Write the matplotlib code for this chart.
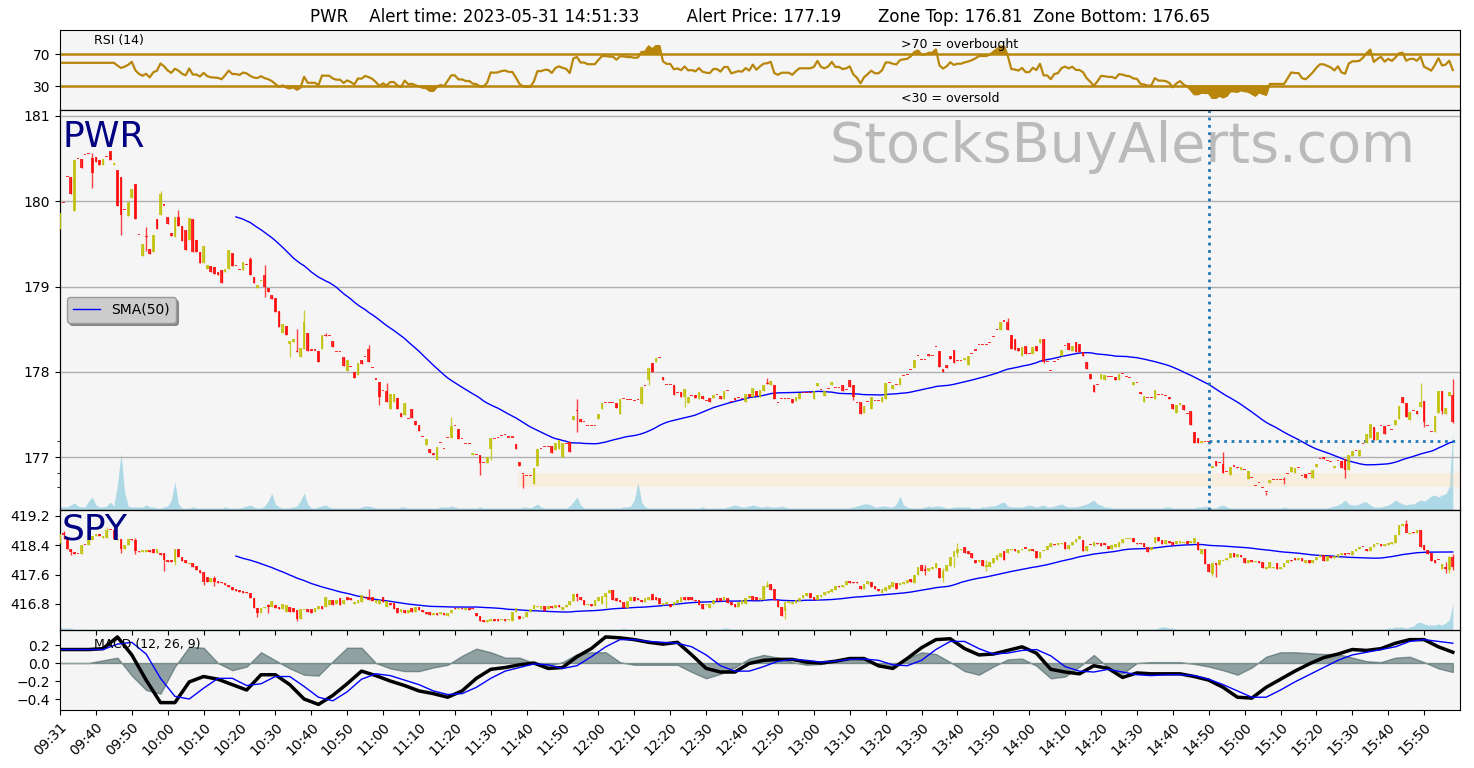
import numpy as np
import pandas as pd
import matplotlib
matplotlib.use("Agg")
import matplotlib.pyplot as plt

ticker = "PWR"
alert_time = "2023-05-31 14:51:33"
alert_price = 177.19
zone_top = 176.81
zone_bottom = 176.65
alert_bar = 320
zone_start_bar = 128
# RSI shown flat before it has enough history
rsi_start_value = 59
rsi_start_bars = 16

time_labels = ["09:31", "09:40", "09:50", "10:00", "10:10", "10:20", "10:30", "10:40",
               "10:50", "11:00", "11:10", "11:20", "11:30", "11:40", "11:50", "12:00",
               "12:10", "12:20", "12:30", "12:40", "12:50", "13:00", "13:10", "13:20",
               "13:30", "13:40", "13:50", "14:00", "14:10", "14:20", "14:30", "14:40",
               "14:50", "15:00", "15:10", "15:20", "15:30", "15:40", "15:50"]

# PWR 1-minute candles (open / close)
pwr_open = [
    179.68, 179.98, 180.28, 180.28, 179.88, 180.50, 180.49, 180.54, 180.55, 180.51,
    180.52, 180.48, 180.42, 180.52, 180.59, 180.42, 180.37, 180.28, 179.90, 179.83,
    180.04, 180.20, 179.60, 179.36, 179.58, 179.44, 179.41, 179.79, 179.84, 179.95,
    179.82, 179.63, 179.58, 179.82, 179.71, 179.66, 179.55, 179.79, 179.54, 179.40,
    179.28, 179.21, 179.24, 179.23, 179.17, 179.19, 179.17, 179.21, 179.39, 179.24,
    179.19, 179.19, 179.25, 179.32, 179.11, 178.98, 179.07, 179.14, 178.98, 178.90,
    178.86, 178.71, 178.45, 178.54, 178.33, 178.35, 178.25, 178.17, 178.27, 178.46,
    178.25, 178.25, 178.24, 178.27, 178.42, 178.42, 178.36, 178.23, 178.23, 178.17,
    178.01, 178.06, 178.00, 177.96, 178.14, 178.17, 178.27, 178.05, 177.91, 177.88,
    177.77, 177.77, 177.57, 177.65, 177.69, 177.52, 177.49, 177.45, 177.57, 177.42,
    177.38, 177.24, 177.14, 177.09, 177.05, 176.97, 177.16, 177.10, 177.22, 177.23,
    177.36, 177.33, 177.21, 177.15, 177.15, 177.03, 177.03, 177.03, 176.93, 176.93,
    177.10, 177.21, 177.22, 177.25, 177.26, 177.23, 177.23, 177.15, 176.94, 176.80,
    176.78, 176.78, 176.69, 176.90, 177.09, 177.12, 177.12, 177.13, 177.08, 177.09,
    177.00, 177.15, 177.18, 177.43, 177.54, 177.45, 177.41, 177.37, 177.37, 177.37,
    177.45, 177.56, 177.64, 177.63, 177.63, 177.64, 177.50, 177.68, 177.67, 177.67,
    177.66, 177.67, 177.62, 177.83, 177.90, 178.10, 178.11, 178.16, 177.94, 177.85,
    177.85, 177.85, 177.75, 177.76, 177.71, 177.64, 177.72, 177.73, 177.68, 177.72,
    177.66, 177.69, 177.69, 177.73, 177.72, 177.68, 177.77, 177.65, 177.69, 177.69,
    177.68, 177.65, 177.74, 177.71, 177.77, 177.70, 177.77, 177.86, 177.85, 177.84,
    177.64, 177.68, 177.68, 177.68, 177.68, 177.66, 177.68, 177.75, 177.75, 177.75,
    177.68, 177.83, 177.79, 177.72, 177.80, 177.85, 177.81, 177.81, 177.85, 177.79,
    177.90, 177.84, 177.64, 177.65, 177.52, 177.65, 177.57, 177.66, 177.66, 177.65,
    177.68, 177.87, 177.80, 177.84, 177.85, 177.95, 177.96, 178.02, 178.04, 178.19,
    178.14, 178.14, 178.21, 178.19, 178.29, 178.24, 178.03, 178.08, 178.18, 178.26,
    178.13, 178.13, 178.14, 178.08, 178.21, 178.25, 178.31, 178.31, 178.31, 178.34,
    178.41, 178.49, 178.49, 178.59, 178.58, 178.43, 178.38, 178.28, 178.18, 178.30,
    178.21, 178.21, 178.30, 178.34, 178.38, 178.12, 178.01, 178.12, 178.14, 178.19,
    178.30, 178.34, 178.25, 178.35, 178.33, 178.23, 178.12, 177.97, 177.85, 177.85,
    177.92, 177.91, 177.94, 177.94, 177.94, 177.91, 177.97, 177.94, 177.93, 177.85,
    177.87, 177.76, 177.65, 177.69, 177.69, 177.68, 177.73, 177.73, 177.72, 177.71,
    177.62, 177.52, 177.61, 177.61, 177.50, 177.54, 177.30, 177.22, 177.16, 177.18,
    177.18, 176.87, 176.96, 176.93, 176.92, 176.83, 176.79, 176.89, 176.89, 176.85,
    176.85, 176.74, 176.76, 176.66, 176.70, 176.64, 176.59, 176.70, 176.73, 176.73,
    176.73, 176.73, 176.80, 176.82, 176.81, 176.87, 176.78, 176.80, 176.80, 176.76,
    176.89, 176.98, 177.00, 176.96, 176.94, 176.87, 176.96, 176.96, 176.98, 176.85,
    177.01, 177.07, 177.01, 177.15, 177.16, 177.22, 177.35, 177.20, 177.36, 177.36,
    177.36, 177.32, 177.38, 177.45, 177.70, 177.64, 177.43, 177.54, 177.54, 177.59,
    177.66, 177.36, 177.30, 177.30, 177.52, 177.78, 177.51, 177.72, 177.73]

pwr_close = [
    179.86, 179.98, 180.28, 180.08, 180.48, 180.50, 180.39, 180.54, 180.55, 180.33,
    180.46, 180.43, 180.50, 180.52, 180.48, 180.45, 179.94, 179.84, 179.90, 179.99,
    180.14, 179.79, 179.60, 179.50, 179.58, 179.38, 179.61, 179.68, 180.09, 179.95,
    179.73, 179.59, 179.82, 179.71, 179.53, 179.43, 179.80, 179.41, 179.41, 179.28,
    179.47, 179.25, 179.17, 179.15, 179.13, 179.04, 179.21, 179.43, 179.24, 179.24,
    179.19, 179.29, 179.25, 179.13, 179.04, 179.02, 179.08, 178.99, 178.94, 178.85,
    178.70, 178.52, 178.56, 178.43, 178.36, 178.39, 178.23, 178.28, 178.59, 178.25,
    178.25, 178.25, 178.11, 178.43, 178.42, 178.42, 178.29, 178.23, 178.23, 178.07,
    178.14, 178.06, 177.93, 178.10, 178.09, 178.17, 178.12, 178.05, 177.91, 177.70,
    177.77, 177.65, 177.74, 177.74, 177.57, 177.47, 177.64, 177.45, 177.46, 177.38,
    177.31, 177.24, 177.21, 177.05, 177.03, 177.12, 177.16, 177.10, 177.22, 177.36,
    177.36, 177.21, 177.21, 177.15, 177.15, 177.05, 177.03, 176.93, 176.93, 177.00,
    177.22, 177.21, 177.22, 177.25, 177.26, 177.23, 177.23, 177.10, 176.90, 176.80,
    176.78, 176.78, 176.87, 177.09, 177.09, 177.12, 177.12, 177.05, 177.16, 177.20,
    177.17, 177.15, 177.06, 177.48, 177.54, 177.41, 177.41, 177.37, 177.37, 177.37,
    177.50, 177.64, 177.64, 177.63, 177.63, 177.58, 177.68, 177.68, 177.67, 177.67,
    177.66, 177.67, 177.82, 177.83, 178.04, 178.00, 178.16, 178.16, 177.90, 177.85,
    177.85, 177.73, 177.75, 177.71, 177.80, 177.71, 177.72, 177.69, 177.76, 177.68,
    177.66, 177.65, 177.73, 177.73, 177.68, 177.77, 177.77, 177.65, 177.67, 177.69,
    177.68, 177.74, 177.70, 177.81, 177.72, 177.79, 177.85, 177.86, 177.89, 177.68,
    177.64, 177.68, 177.68, 177.68, 177.64, 177.70, 177.75, 177.75, 177.75, 177.75,
    177.77, 177.87, 177.79, 177.77, 177.80, 177.88, 177.81, 177.81, 177.78, 177.79,
    177.82, 177.70, 177.64, 177.51, 177.60, 177.65, 177.71, 177.66, 177.66, 177.71,
    177.87, 177.87, 177.85, 177.84, 177.93, 177.95, 177.96, 178.02, 178.14, 178.19,
    178.14, 178.14, 178.19, 178.19, 178.29, 178.06, 178.00, 178.05, 178.15, 178.10,
    178.13, 178.13, 178.16, 178.18, 178.21, 178.25, 178.31, 178.31, 178.31, 178.34,
    178.41, 178.49, 178.59, 178.59, 178.49, 178.27, 178.26, 178.24, 178.29, 178.21,
    178.21, 178.29, 178.25, 178.38, 178.12, 178.12, 178.01, 178.12, 178.14, 178.26,
    178.30, 178.26, 178.30, 178.23, 178.23, 178.18, 178.03, 177.92, 177.76, 177.85,
    177.97, 177.96, 177.94, 177.94, 177.90, 177.98, 177.97, 177.94, 177.93, 177.88,
    177.87, 177.74, 177.72, 177.69, 177.69, 177.79, 177.73, 177.73, 177.72, 177.68,
    177.56, 177.61, 177.64, 177.55, 177.50, 177.38, 177.17, 177.17, 177.19, 177.18,
    177.18, 176.90, 176.90, 176.93, 176.81, 176.83, 176.89, 176.89, 176.87, 176.89,
    176.85, 176.84, 176.76, 176.66, 176.70, 176.64, 176.59, 176.73, 176.73, 176.73,
    176.73, 176.73, 176.80, 176.88, 176.87, 176.87, 176.78, 176.76, 176.80, 176.85,
    176.92, 176.98, 176.98, 176.96, 176.94, 176.90, 176.96, 176.87, 176.85, 177.02,
    177.07, 177.07, 177.08, 177.15, 177.27, 177.39, 177.20, 177.29, 177.36, 177.27,
    177.36, 177.32, 177.43, 177.60, 177.63, 177.47, 177.53, 177.54, 177.50, 177.65,
    177.41, 177.36, 177.30, 177.48, 177.77, 177.54, 177.58, 177.76, 177.41]

# bars with a visible wick: bar index, high, low
pwr_wick_bar = [9, 17, 24, 28, 33, 53, 57, 64, 66, 68, 74, 86, 89, 91, 109, 117, 120,
                129, 144, 164, 174, 197, 221, 264, 274, 324, 336, 341, 358, 379, 380,
                385, 388]
pwr_wick_high = [180.56, 180.28, 179.70, 180.12, 179.90, 179.35, 179.25, 178.36, 178.50,
                 178.72, 178.46, 178.31, 177.88, 177.87, 177.47, 177.03, 177.22, 176.80,
                 177.68, 178.04, 177.80, 177.93, 177.84, 178.63, 178.38, 177.06, 176.59,
                 176.77, 176.98, 177.87, 177.66, 177.78, 177.92]
pwr_wick_low = [180.16, 179.60, 179.42, 179.84, 179.71, 179.13, 178.88, 178.17, 178.23,
                178.27, 178.42, 178.12, 177.61, 177.65, 177.23, 176.79, 176.97, 176.64,
                177.30, 177.85, 177.59, 177.86, 177.67, 178.49, 178.10, 176.81, 176.56,
                176.69, 176.76, 177.59, 177.35, 177.50, 177.40]

pwr_volume = [
    3, 3, 3, 5, 7, 4, 3, 3, 9, 13, 5, 3, 3, 4, 8, 4, 25, 57, 18, 4,
    3, 3, 3, 3, 5, 3, 3, 2, 2, 3, 4, 10, 28, 6, 2, 2, 2, 3, 2, 2,
    2, 2, 2, 2, 2, 2, 3, 2, 2, 2, 2, 3, 4, 5, 3, 2, 2, 4, 9, 17,
    6, 3, 2, 2, 2, 3, 4, 9, 17, 6, 2, 2, 3, 4, 5, 3, 2, 2, 2, 2,
    2, 2, 2, 2, 3, 4, 4, 3, 2, 2, 2, 2, 2, 2, 2, 3, 3, 2, 2, 2,
    2, 2, 2, 2, 2, 2, 3, 3, 3, 4, 3, 2, 2, 2, 2, 2, 2, 3, 2, 2,
    2, 2, 2, 2, 2, 2, 2, 2, 2, 3, 3, 2, 4, 6, 3, 2, 2, 2, 2, 2,
    2, 2, 4, 8, 13, 5, 2, 2, 2, 2, 2, 2, 2, 2, 2, 2, 2, 3, 3, 4,
    10, 28, 8, 3, 2, 2, 2, 2, 2, 2, 2, 2, 2, 2, 2, 2, 2, 2, 2, 3,
    2, 2, 2, 2, 2, 2, 3, 4, 5, 4, 3, 3, 4, 5, 4, 3, 3, 4, 3, 3,
    3, 4, 3, 2, 2, 2, 2, 2, 2, 2, 2, 2, 2, 2, 2, 2, 2, 2, 2, 2,
    2, 3, 4, 5, 6, 6, 5, 3, 3, 4, 4, 3, 3, 6, 14, 5, 3, 2, 2, 2,
    2, 3, 4, 3, 4, 4, 3, 2, 2, 3, 3, 3, 3, 3, 2, 2, 2, 3, 3, 4,
    4, 5, 7, 8, 4, 3, 3, 3, 3, 4, 5, 4, 3, 4, 5, 3, 3, 4, 5, 6,
    4, 3, 3, 3, 4, 5, 6, 8, 10, 6, 5, 3, 3, 2, 2, 2, 2, 2, 2, 2,
    2, 2, 2, 2, 2, 2, 2, 2, 3, 3, 2, 2, 2, 2, 2, 2, 2, 3, 3, 4,
    3, 2, 2, 4, 5, 3, 2, 2, 2, 2, 2, 2, 2, 2, 2, 2, 2, 2, 2, 2,
    2, 3, 2, 2, 2, 2, 2, 2, 2, 2, 2, 2, 2, 2, 3, 4, 5, 7, 10, 6,
    5, 5, 6, 8, 8, 5, 3, 3, 3, 4, 5, 7, 10, 8, 6, 5, 6, 6, 8, 10,
    9, 11, 14, 15, 13, 15, 16, 23, 80]

# SPY 1-minute candles
spy_open = [
    418.45, 418.72, 418.56, 418.31, 418.22, 418.15, 418.15, 418.40, 418.40, 418.54,
    418.65, 418.71, 418.59, 418.59, 418.81, 418.81, 418.54, 418.58, 418.31, 418.40,
    418.58, 418.54, 418.25, 418.21, 418.21, 418.27, 418.31, 418.18, 418.18, 418.18,
    418.01, 418.01, 417.95, 418.29, 418.09, 418.00, 417.89, 417.91, 417.83, 417.72,
    417.68, 417.54, 417.40, 417.50, 417.42, 417.40, 417.38, 417.31, 417.27, 417.20,
    417.18, 417.16, 417.13, 417.09, 416.95, 416.70, 416.56, 416.68, 416.77, 416.71,
    416.77, 416.72, 416.65, 416.59, 416.72, 416.68, 416.63, 416.38, 416.63, 416.66,
    416.65, 416.59, 416.65, 416.74, 416.72, 416.77, 416.92, 416.80, 416.95, 416.81,
    416.98, 416.95, 416.80, 416.82, 416.86, 417.00, 416.98, 416.98, 416.82, 416.80,
    416.98, 416.72, 416.83, 416.83, 416.70, 416.59, 416.63, 416.54, 416.68, 416.59,
    416.71, 416.63, 416.59, 416.59, 416.49, 416.54, 416.52, 416.56, 416.47, 416.54,
    416.70, 416.65, 416.70, 416.63, 416.70, 416.68, 416.54, 416.47, 416.35, 416.32,
    416.34, 416.40, 416.38, 416.36, 416.40, 416.36, 416.34, 416.59, 416.47, 416.41,
    416.45, 416.59, 416.66, 416.72, 416.66, 416.74, 416.66, 416.74, 416.70, 416.77,
    416.63, 416.72, 416.77, 416.88, 417.07, 417.00, 416.92, 416.77, 416.80, 416.75,
    416.89, 416.80, 417.00, 417.09, 417.18, 416.95, 416.91, 416.86, 416.68, 416.89,
    417.00, 416.95, 416.92, 416.86, 416.91, 417.07, 416.98, 416.95, 416.77, 416.80,
    416.81, 416.77, 416.83, 416.86, 416.98, 417.00, 417.00, 416.92, 416.91, 416.81,
    416.77, 416.68, 416.81, 416.95, 416.95, 416.91, 416.95, 416.86, 416.81, 416.72,
    416.81, 416.81, 416.95, 417.01, 416.98, 416.91, 416.92, 417.27, 417.34, 417.21,
    416.92, 416.72, 416.61, 416.83, 416.80, 416.83, 416.89, 416.95, 417.01, 417.09,
    416.98, 416.92, 417.00, 417.04, 417.09, 417.13, 417.18, 417.29, 417.25, 417.31,
    417.43, 417.40, 417.40, 417.29, 417.20, 417.34, 417.40, 417.29, 417.22, 417.11,
    417.16, 417.22, 417.27, 417.38, 417.31, 417.34, 417.38, 417.47, 417.38, 417.59,
    417.86, 417.74, 417.71, 417.74, 417.77, 417.77, 417.50, 417.71, 417.83, 418.07,
    418.20, 418.27, 418.34, 418.24, 418.18, 418.01, 417.95, 418.00, 417.81, 417.81,
    417.92, 418.01, 418.09, 418.24, 418.20, 418.27, 418.29, 418.20, 418.27, 418.31,
    418.24, 418.29, 418.25, 418.04, 418.24, 418.27, 418.36, 418.43, 418.40, 418.43,
    418.48, 418.31, 418.40, 418.48, 418.56, 418.54, 418.25, 418.40, 418.38, 418.47,
    418.45, 418.45, 418.38, 418.31, 418.34, 418.36, 418.47, 418.56, 418.58, 418.60,
    418.47, 418.45, 418.45, 418.34, 418.27, 418.45, 418.63, 418.54, 418.43, 418.52,
    418.50, 418.42, 418.45, 418.45, 418.51, 418.47, 418.47, 418.50, 418.16, 418.31,
    417.88, 417.61, 417.91, 417.86, 417.98, 418.00, 418.04, 418.18, 418.07, 418.13,
    418.04, 417.91, 418.00, 417.93, 417.97, 417.95, 417.74, 417.77, 417.77, 417.92,
    417.74, 417.80, 417.92, 418.01, 418.04, 418.00, 418.04, 417.92, 418.00, 417.91,
    418.00, 418.09, 418.13, 417.98, 418.11, 418.04, 418.09, 418.13, 418.20, 418.20,
    418.13, 418.24, 418.29, 418.34, 418.31, 418.25, 418.34, 418.42, 418.42, 418.38,
    418.41, 418.43, 418.45, 418.68, 418.92, 418.98, 418.71, 418.77, 418.72, 418.81,
    418.40, 418.27, 418.18, 418.00, 417.99, 417.74, 417.80, 417.72, 418.09]

spy_close = [
    418.71, 418.67, 418.31, 418.22, 418.15, 418.15, 418.40, 418.40, 418.54, 418.65,
    418.71, 418.65, 418.65, 418.81, 418.81, 418.56, 418.58, 418.31, 418.40, 418.58,
    418.54, 418.25, 418.21, 418.27, 418.27, 418.21, 418.18, 418.31, 418.13, 418.01,
    417.95, 417.95, 418.29, 418.09, 417.98, 417.91, 417.92, 417.81, 417.72, 417.63,
    417.40, 417.40, 417.51, 417.39, 417.38, 417.36, 417.31, 417.27, 417.18, 417.16,
    417.13, 417.11, 417.09, 416.95, 416.68, 416.56, 416.68, 416.72, 416.71, 416.89,
    416.68, 416.65, 416.79, 416.77, 416.59, 416.59, 416.38, 416.65, 416.66, 416.59,
    416.54, 416.68, 416.74, 416.65, 416.98, 416.91, 416.77, 416.91, 416.77, 416.92,
    416.92, 416.90, 416.86, 416.91, 417.04, 416.95, 416.91, 416.89, 416.92, 416.91,
    416.86, 416.89, 416.77, 416.65, 416.56, 416.65, 416.54, 416.63, 416.59, 416.71,
    416.63, 416.59, 416.52, 416.49, 416.56, 416.50, 416.59, 416.49, 416.54, 416.63,
    416.65, 416.70, 416.65, 416.70, 416.63, 416.65, 416.47, 416.34, 416.32, 416.36,
    416.40, 416.34, 416.34, 416.40, 416.34, 416.40, 416.59, 416.68, 416.38, 416.45,
    416.59, 416.66, 416.77, 416.75, 416.74, 416.61, 416.74, 416.70, 416.77, 416.72,
    416.72, 416.77, 416.89, 417.07, 416.98, 416.91, 416.77, 416.81, 416.75, 416.91,
    416.98, 417.01, 417.09, 417.18, 416.92, 416.89, 416.86, 416.68, 416.89, 417.00,
    416.89, 416.91, 416.84, 416.95, 416.98, 416.92, 416.92, 416.80, 416.83, 416.86,
    416.72, 416.86, 416.91, 417.00, 416.92, 416.92, 416.91, 416.89, 416.77, 416.65,
    416.81, 416.80, 416.92, 416.89, 416.89, 416.98, 416.83, 416.77, 416.72, 416.86,
    416.92, 416.95, 417.01, 416.92, 416.91, 416.95, 417.29, 417.31, 417.18, 416.91,
    416.72, 416.47, 416.86, 416.89, 416.86, 416.92, 416.95, 417.04, 417.11, 416.95,
    416.92, 417.04, 417.04, 417.13, 417.16, 417.20, 417.29, 417.25, 417.31, 417.43,
    417.38, 417.36, 417.38, 417.20, 417.34, 417.43, 417.25, 417.20, 417.16, 417.20,
    417.27, 417.31, 417.40, 417.22, 417.38, 417.40, 417.45, 417.40, 417.59, 417.81,
    417.71, 417.70, 417.77, 417.80, 417.91, 417.50, 417.71, 417.86, 418.09, 418.24,
    418.29, 418.31, 418.20, 418.16, 418.04, 417.92, 418.00, 417.83, 417.86, 417.95,
    418.04, 418.13, 418.20, 418.01, 418.31, 418.31, 418.24, 418.27, 418.31, 418.31,
    418.31, 418.25, 418.04, 418.22, 418.27, 418.38, 418.45, 418.40, 418.45, 418.47,
    418.31, 418.40, 418.50, 418.56, 418.65, 418.25, 418.38, 418.40, 418.50, 418.43,
    418.38, 418.41, 418.29, 418.40, 418.43, 418.50, 418.56, 418.58, 418.60, 418.50,
    418.43, 418.43, 418.34, 418.22, 418.34, 418.63, 418.52, 418.43, 418.54, 418.45,
    418.41, 418.51, 418.51, 418.50, 418.42, 418.51, 418.61, 418.27, 418.29, 417.88,
    417.68, 417.91, 417.86, 418.00, 418.01, 418.04, 418.18, 418.07, 418.16, 418.09,
    417.91, 418.01, 417.95, 417.97, 417.92, 417.77, 417.81, 417.95, 417.81, 417.74,
    417.81, 417.92, 418.01, 417.98, 418.00, 418.06, 417.98, 418.00, 417.91, 418.01,
    418.09, 418.13, 417.98, 418.11, 418.04, 418.11, 418.15, 418.20, 418.13, 418.16,
    418.25, 418.31, 418.34, 418.34, 418.25, 418.36, 418.42, 418.45, 418.38, 418.43,
    418.45, 418.50, 418.68, 418.95, 418.99, 418.72, 418.74, 418.72, 418.81, 418.34,
    418.27, 418.16, 417.98, 417.92, 417.99, 417.90, 417.74, 418.09, 417.81]

spy_wick_bar = [1, 3, 13, 17, 21, 29, 32, 40, 43, 55, 58, 66, 86, 144, 152, 197, 202,
                241, 246, 249, 250, 258, 321, 322, 375, 386, 387, 388]
spy_wick_high = [418.80, 418.31, 418.90, 418.58, 418.60, 418.18, 418.29, 417.68, 417.55,
                 416.70, 416.80, 416.63, 417.20, 417.10, 417.05, 417.43, 416.72, 417.86,
                 417.77, 418.09, 418.45, 418.00, 417.88, 417.91, 419.10, 417.95, 418.12,
                 418.15]
spy_wick_low = [418.56, 418.13, 418.59, 418.20, 418.15, 417.71, 417.85, 417.32, 417.30,
                416.44, 416.55, 416.33, 416.91, 416.88, 416.70, 417.27, 416.40, 417.60,
                417.40, 417.80, 418.07, 417.70, 417.55, 417.53, 418.92, 417.64, 417.65,
                417.72]

spy_volume = [
    2, 2, 2, 2, 1, 1, 1, 1, 1, 1, 1, 1, 1, 1, 1, 1, 1, 1, 1, 1,
    1, 1, 1, 1, 1, 1, 1, 1, 1, 1, 1, 1, 1, 1, 1, 1, 1, 1, 1, 1,
    1, 1, 1, 1, 1, 1, 1, 1, 1, 1, 1, 1, 1, 1, 1, 1, 1, 1, 1, 1,
    1, 1, 1, 1, 1, 1, 1, 1, 1, 1, 1, 1, 1, 1, 1, 1, 1, 1, 1, 1,
    1, 1, 1, 1, 1, 1, 1, 1, 1, 1, 1, 1, 1, 1, 1, 1, 1, 1, 1, 1,
    1, 1, 1, 1, 1, 1, 1, 1, 1, 1, 1, 1, 1, 1, 1, 1, 1, 1, 1, 1,
    1, 1, 1, 1, 1, 1, 1, 1, 1, 1, 1, 1, 1, 1, 1, 1, 1, 1, 1, 1,
    1, 1, 1, 1, 1, 1, 1, 1, 1, 1, 1, 1, 1, 1, 1, 1, 1, 2, 1, 1,
    1, 1, 1, 1, 1, 1, 1, 1, 1, 1, 1, 1, 1, 1, 1, 1, 1, 1, 1, 1,
    1, 1, 1, 1, 1, 2, 2, 1, 1, 1, 1, 1, 1, 1, 1, 1, 1, 1, 1, 1,
    1, 1, 1, 1, 1, 1, 1, 1, 1, 1, 1, 1, 1, 1, 1, 1, 1, 1, 1, 1,
    1, 1, 1, 1, 1, 1, 1, 1, 1, 1, 1, 1, 1, 1, 1, 1, 1, 1, 1, 1,
    1, 1, 1, 1, 1, 1, 1, 1, 1, 1, 1, 1, 1, 1, 1, 1, 1, 1, 1, 1,
    1, 1, 1, 1, 1, 1, 1, 1, 1, 1, 1, 1, 1, 1, 1, 1, 1, 1, 1, 1,
    1, 1, 1, 1, 1, 1, 1, 1, 1, 1, 1, 1, 1, 1, 1, 1, 1, 1, 1, 1,
    1, 1, 1, 1, 1, 1, 2, 3, 3, 2, 2, 1, 1, 1, 1, 1, 1, 1, 1, 1,
    1, 1, 1, 1, 1, 1, 1, 1, 1, 1, 1, 1, 1, 1, 1, 1, 1, 1, 1, 1,
    1, 1, 1, 1, 1, 1, 1, 1, 1, 1, 1, 1, 1, 1, 1, 1, 1, 1, 1, 1,
    1, 1, 1, 1, 1, 1, 1, 1, 1, 1,
    2, 2, 3, 3, 3, 2, 3, 4, 7, 8, 6, 5, 5, 5, 6, 5, 7, 10, 26]

# MACD (12, 26, 9), one reading every 4th bar
macd_bar = list(range(0, 389, 4))
macd_line = [
    0.15, 0.15, 0.15, 0.16, 0.29, 0.09, -0.19, -0.44, -0.44, -0.21,
    -0.15, -0.18, -0.24, -0.30, -0.13, -0.13, -0.24, -0.40, -0.46, -0.36,
    -0.23, -0.09, -0.14, -0.20, -0.25, -0.31, -0.34, -0.38, -0.31, -0.17,
    -0.07, -0.05, -0.02, 0.00, -0.06, -0.05, 0.07, 0.16, 0.29, 0.28,
    0.26, 0.23, 0.21, 0.23, 0.09, -0.06, -0.10, -0.10, -0.005, 0.03,
    0.04, 0.04, 0.01, 0.00, 0.02, 0.05, 0.05, -0.03, -0.06, 0.05,
    0.17, 0.26, 0.27, 0.16, 0.09, 0.10, 0.14, 0.18, 0.11, -0.07,
    -0.10, -0.12, -0.03, -0.06, -0.16, -0.11, -0.12, -0.12, -0.12, -0.15,
    -0.19, -0.27, -0.38, -0.39, -0.27, -0.18, -0.09, -0.01, 0.06, 0.10,
    0.15, 0.14, 0.16, 0.22, 0.26, 0.26, 0.18, 0.12]
macd_signal = [
    0.15, 0.15, 0.15, 0.15, 0.21, 0.23, 0.10, -0.17, -0.37, -0.40,
    -0.28, -0.17, -0.17, -0.25, -0.23, -0.15, -0.15, -0.26, -0.38, -0.42,
    -0.32, -0.18, -0.12, -0.14, -0.19, -0.24, -0.31, -0.35, -0.34, -0.27,
    -0.17, -0.09, -0.05, -0.01, -0.02, -0.06, -0.03, 0.07, 0.18, 0.26,
    0.26, 0.24, 0.23, 0.22, 0.18, 0.09, -0.03, -0.09, -0.09, -0.04,
    0.02, 0.04, 0.03, 0.01, 0.02, 0.04, 0.045, 0.03, -0.02, -0.03,
    0.03, 0.15, 0.24, 0.24, 0.16, 0.10, 0.11, 0.14, 0.15, 0.08,
    -0.04, -0.09, -0.10, -0.07, -0.10, -0.13, -0.14, -0.13, -0.13, -0.14,
    -0.18, -0.24, -0.31, -0.38, -0.38, -0.30, -0.21, -0.13, -0.05, 0.03,
    0.09, 0.12, 0.15, 0.18, 0.24, 0.26, 0.24, 0.22]
macd_hist = [
    0.00, 0.00, 0.00, 0.03, 0.06, -0.14, -0.30, -0.34, -0.04, 0.18,
    0.17, 0.00, -0.08, -0.04, 0.12, 0.03, -0.06, -0.13, -0.14, 0.02,
    0.17, 0.17, 0.00, -0.06, -0.09, -0.09, -0.05, -0.02, 0.08, 0.16,
    0.12, 0.06, 0.06, 0.00, -0.03, 0.01, 0.10, 0.12, 0.12, 0.01,
    -0.02, -0.02, -0.02, -0.02, -0.10, -0.17, -0.12, -0.05, 0.05, 0.09,
    0.06, 0.01, -0.02, -0.01, 0.02, 0.05, 0.04, -0.04, -0.05, 0.05,
    0.12, 0.10, 0.01, -0.09, -0.13, -0.04, 0.04, 0.05, -0.03, -0.17,
    -0.15, -0.04, 0.09, -0.05, -0.12, 0.00, 0.01, 0.01, 0.01, -0.01,
    -0.04, -0.08, -0.13, -0.05, 0.07, 0.12, 0.12, 0.11, 0.10, 0.10,
    0.06, 0.02, 0.01, 0.06, 0.07, 0.01, -0.06, -0.10]


def candles(ax, o, c, wick_bar, wick_hi, wick_lo, min_body):
    o = np.array(o)
    c = np.array(c)
    x = np.arange(len(c))
    hi = np.maximum(o, c)
    lo = np.minimum(o, c)
    hi[wick_bar] = wick_hi
    lo[wick_bar] = wick_lo
    colors = np.where(c > o, "y", "r")
    ax.vlines(x, lo, hi, colors=colors, lw=1, alpha=0.75, zorder=3)
    ax.bar(x, np.maximum(np.abs(c - o), min_body), 0.75, np.minimum(o, c),
           color=colors, alpha=0.8, lw=0, zorder=3)


def rsi(close, n=14):
    delta = close.diff()
    gain = delta.clip(lower=0).ewm(alpha=1 / n, adjust=False).mean()
    loss = (-delta.clip(upper=0)).ewm(alpha=1 / n, adjust=False).mean()
    r = 100 - 100 / (1 + gain / loss)
    r.iloc[:rsi_start_bars] = rsi_start_value
    return r


pwr = pd.Series(pwr_close)
spy = pd.Series(spy_close)
x = np.arange(len(pwr))

fig = plt.figure(figsize=(14.74, 7.68), dpi=100)
gs = fig.add_gridspec(4, 1, height_ratios=[80, 400, 120, 80], hspace=0,
                      left=60 / 1474, right=1460 / 1474, top=1 - 30 / 768, bottom=1 - 710 / 768)
ax_r = fig.add_subplot(gs[0])
ax_p = fig.add_subplot(gs[1], sharex=ax_r)
ax_s = fig.add_subplot(gs[2], sharex=ax_r)
ax_m = fig.add_subplot(gs[3], sharex=ax_r)

for ax in (ax_r, ax_p, ax_s, ax_m):
    ax.set_facecolor("#f5f5f5")

# RSI
r = rsi(pwr)
gold = "darkgoldenrod"
ax_r.plot(x, r, color=gold, lw=1.6)
ax_r.axhline(70, color=gold, lw=1.8)
ax_r.axhline(30, color=gold, lw=1.8)
ax_r.fill_between(x, r, 70, where=r >= 70, interpolate=True, color=gold)
ax_r.fill_between(x, r, 30, where=r <= 30, interpolate=True, color=gold)
ax_r.set_ylim(0, 100)
ax_r.set_yticks([30, 70])
ax_r.text(0.024, 0.83, "RSI (14)", transform=ax_r.transAxes, fontsize=9)
ax_r.text(0.601, 0.78, ">70 = overbought", transform=ax_r.transAxes, fontsize=9)
ax_r.text(0.601, 0.10, "<30 = oversold", transform=ax_r.transAxes, fontsize=9)
ax_r.set_title(f"{ticker}    Alert time: {alert_time}         Alert Price: {alert_price}"
               f"       Zone Top: {zone_top}  Zone Bottom: {zone_bottom}", fontsize=12, pad=6)

# PWR price panel
ax_pv = ax_p.twinx()
ax_pv.fill_between(x, pwr_volume, color="lightblue", lw=0)
ax_pv.set_ylim(0, 400)
ax_pv.set_yticks([])
ax_p.set_zorder(ax_pv.get_zorder() + 1)
ax_p.patch.set_visible(False)
ax_pv.patch.set_visible(True)
ax_pv.patch.set_facecolor("#f5f5f5")

ax_p.grid(axis="y", color="#b0b0b0", lw=1)
ax_p.fill_between([zone_start_bar - 0.5, len(pwr) + 1], zone_bottom, zone_top,
                  color="navajowhite", alpha=0.3, lw=0)
candles(ax_p, pwr_open, pwr_close, pwr_wick_bar, pwr_wick_high, pwr_wick_low, 0.012)
ax_p.plot(x, pwr.rolling(50).mean(), color="blue", lw=1, label="SMA(50)")
ax_p.axvline(alert_bar, color="#1f77b4", ls=":", lw=2)
ax_p.hlines(alert_price, alert_bar, len(pwr) - 0.4, color="#1f77b4", ls=":", lw=2)
ax_p.set_ylim(176.38, 181.07)
ax_p.set_yticks([177, 178, 179, 180, 181])
ax_p.set_yticks([zone_bottom, zone_top, alert_price], minor=True)
ax_p.text(0.0015, 0.9075, ticker, transform=ax_p.transAxes, fontsize=26, color="navy")
ax_p.text(0.968, 0.87, "StocksBuyAlerts.com", transform=ax_p.transAxes, fontsize=40,
          color="grey", alpha=0.5, ha="right")
ax_p.legend(loc="center left", fontsize=10, shadow=True, fancybox=True, framealpha=1,
            facecolor="#cccccc", edgecolor="#999999")

# SPY panel
ax_sv = ax_s.twinx()
ax_sv.fill_between(x, spy_volume, color="lightblue", lw=0)
ax_sv.set_ylim(0, 120)
ax_sv.set_yticks([])
ax_s.set_zorder(ax_sv.get_zorder() + 1)
ax_s.patch.set_visible(False)
ax_sv.patch.set_visible(True)
ax_sv.patch.set_facecolor("#f5f5f5")

candles(ax_s, spy_open, spy_close, spy_wick_bar, spy_wick_high, spy_wick_low, 0.03)
ax_s.plot(x, spy.rolling(50).mean(), color="blue", lw=1)
ax_s.set_ylim(416.09, 419.36)
ax_s.set_yticks([416.8, 417.6, 418.4, 419.2])
ax_s.text(0.0015, 0.75, "SPY", transform=ax_s.transAxes, fontsize=26, color="navy")

# MACD
ax_m.fill_between(macd_bar, macd_hist, 0, color="darkslategray", alpha=0.5, lw=1)
ax_m.plot(macd_bar, macd_line, color="black", lw=2.5)
ax_m.plot(macd_bar, macd_signal, color="blue", lw=1)
ax_m.set_ylim(-0.522, 0.367)
ax_m.set_yticks([-0.4, -0.2, 0.0, 0.2])
ax_m.text(0.024, 0.78, "MACD (12, 26, 9)", transform=ax_m.transAxes, fontsize=9)

ax_m.set_xlim(0, 390)
ax_m.set_xticks(np.arange(0, 10 * len(time_labels), 10))
ax_m.set_xticklabels(time_labels, rotation=45, ha="right", rotation_mode="anchor")
for ax in (ax_r, ax_p):
    ax.tick_params(axis="x", length=0, labelbottom=False)
ax_s.tick_params(axis="x", labelbottom=False)

fig.savefig("out.png", dpi=100)
